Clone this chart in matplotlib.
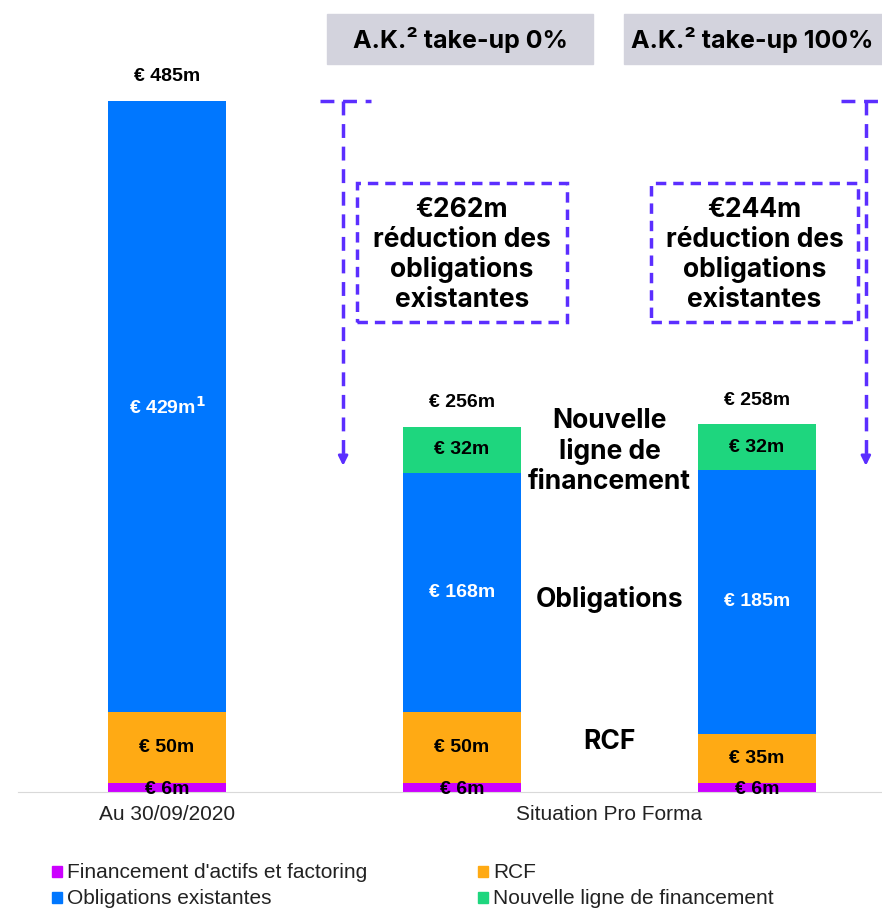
import matplotlib.pyplot as plt
from matplotlib.patches import Rectangle

# data
categories = ["Au 30/09/2020", "Take-up 0%", "Take-up 100%"]
financement = [6, 6, 6]
rcf = [50, 50, 35]
obligations = [429, 168, 185]
nouvelle = [0, 32, 32]
totals = [485, 256, 258]
obl_labels = ["€ 429m$^\\mathbf{1}$", "€ 168m", "€ 185m"]
reductions = ["€262m", "€244m"]
headers = ["A.K.² take-up 0%", "A.K.² take-up 100%"]
legend_labels = ["Financement d'actifs et factoring", "RCF",
                 "Obligations existantes", "Nouvelle ligne de financement"]

c_fin = "#CC00FF"
c_rcf = "#FFAA14"
c_obl = "#0077FF"
c_new = "#1ED67E"
c_dash = "#5B2EFF"

W, H = 882, 909
fig = plt.figure(figsize=(W / 100, H / 100), dpi=100)

def fx(px):
    return px / W

def fy(py):
    return 1 - py / H

ax = fig.add_axes([0, fy(792), 1, 1 - fy(792)])
x = [0, 1, 2]
bw = 0.403
ax.set_xlim(-167 / 295, (W - 167) / 295)
ax.set_ylim(0, 792 / 1.425)

b1 = [f for f in financement]
b2 = [f + r for f, r in zip(financement, rcf)]
b3 = [a + o for a, o in zip(b2, obligations)]
ax.bar(x, financement, bw, color=c_fin, zorder=2)
ax.bar(x, rcf, bw, bottom=b1, color=c_rcf, zorder=2)
ax.bar(x, obligations, bw, bottom=b2, color=c_obl, zorder=2)
ax.bar(x, nouvelle, bw, bottom=b3, color=c_new, zorder=2)

lab = dict(ha="center", va="center", fontweight="bold", fontsize=14, family="Liberation Sans")
for i in x:
    ax.text(i, financement[i] / 2 - 1.5, f"€ {financement[i]}m", **lab, zorder=4)
    ax.text(i, b1[i] + rcf[i] / 2, f"€ {rcf[i]}m", **lab, zorder=4)
    ax.text(i, b2[i] + obligations[i] / 2, obl_labels[i], color="white", **lab, zorder=4)
    if nouvelle[i]:
        ax.text(i, b3[i] + nouvelle[i] / 2, f"€ {nouvelle[i]}m", **lab, zorder=4)
    ax.text(i, totals[i] + 17, f"€ {totals[i]}m", **lab, zorder=4)

for s in ["top", "right", "left"]:
    ax.spines[s].set_visible(False)
ax.spines["bottom"].set_color("#D9D9D9")
ax.spines["bottom"].set_bounds(-0.505, 3)
ax.set_yticks([])
ax.set_xticks([0, 1.5])
ax.set_xticklabels(["Au 30/09/2020", "Situation Pro Forma"], fontsize=15,
                   family="Liberation Sans", color="#222222")
ax.tick_params(axis="x", length=0, pad=9)

# middle annotations
mid = dict(ha="center", va="center", fontweight="bold", fontsize=19, family="Inter")
ax.text(1.5, b3[1] + nouvelle[1] / 2 - 1, "Nouvelle\nligne de\nfinancement", linespacing=1.2, **mid)
ax.text(1.5, b2[1] + obligations[1] / 2 - 5, "Obligations", **mid)
ax.text(1.5, b1[1] + rcf[1] / 2 + 4, "RCF", **mid)

# dashed arrows
y_top = totals[0]
y_tip = 227
for xv, (xl, xr) in [(0.597, (0.517, 0.690)), (2.369, (2.285, 2.45))]:
    ax.plot([xl, xr], [y_top, y_top], color=c_dash, lw=2.5, ls=(0, (4, 2.5)), clip_on=False)
    ax.plot([xv, xv], [y_top, y_tip + 6], color=c_dash, lw=2.5, ls=(0, (4, 2.5)), clip_on=False)
    ax.annotate("", xy=(xv, y_tip), xytext=(xv, y_tip + 10),
                arrowprops=dict(arrowstyle="-|>", color=c_dash, lw=2, mutation_scale=14))

# dashed boxes
for (x0, x1), red in zip([(357, 567), (651, 858)], reductions):
    fig.patches.append(Rectangle((fx(x0), fy(322)), fx(x1 - x0), (322 - 183) / H,
                                 transform=fig.transFigure, fill=False, edgecolor=c_dash,
                                 lw=2.5, ls=(0, (3, 2))))
    fig.text(fx((x0 + x1) / 2), fy(255), f"{red}\nréduction des\nobligations\nexistantes",
             ha="center", va="center", fontsize=19, fontweight="bold", family="Inter",
             linespacing=1.17)

# header boxes
for (x0, x1), h in zip([(327, 593), (624, 890)], headers):
    fig.patches.append(Rectangle((fx(x0), fy(64)), fx(x1 - x0), 50 / H,
                                 transform=fig.transFigure, color="#D3D3DD", zorder=0))
    fig.text(fx((x0 + x1) / 2) - (0.005 if x1 > W else 0), fy(40), h, ha="center", va="center",
             fontsize=18, fontweight="bold", family="Inter")

# legend
leg_colors = [c_fin, c_rcf, c_obl, c_new]
pos = [(52, 872), (478, 872), (52, 898), (478, 898)]
for (px, py), c, t in zip(pos, leg_colors, legend_labels):
    fig.patches.append(Rectangle((fx(px), fy(py + 5)), fx(10), 11 / H,
                                 transform=fig.transFigure, color=c))
    fig.text(fx(px + 15), fy(py), t, ha="left", va="center", fontsize=15,
             family="Liberation Sans", color="#222222")

fig.savefig("out.png", dpi=100)
